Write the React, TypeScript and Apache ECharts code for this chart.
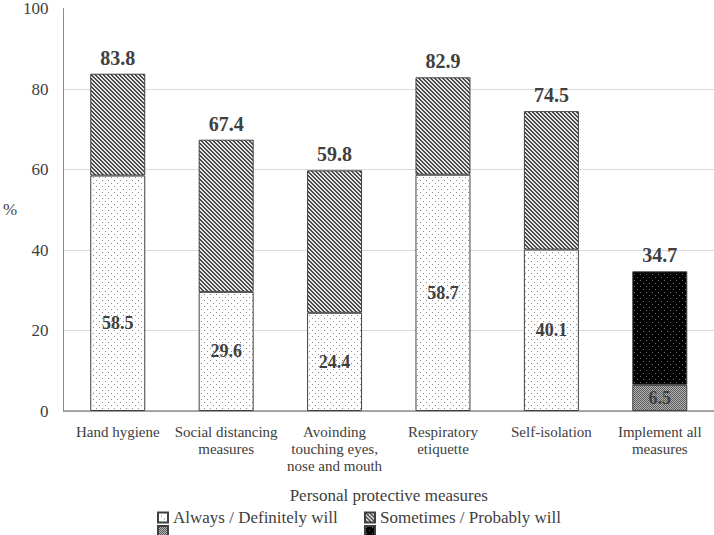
import React, { useEffect, useRef } from "react";
import * as echarts from "echarts";

const categories = [
  "Hand hygiene",
  "Social distancing\nmeasures",
  "Avoinding\ntouching eyes,\nnose and mouth",
  "Respiratory\netiquette",
  "Self-isolation",
  "Implement all\nmeasures",
];
const seriesNames = ["Always / Definitely will", "Sometimes / Probably will", " ", "  "];
// Always / Definitely will (first five measures)
const alwaysVals: (number | string)[] = [58.5, 29.6, 24.4, 58.7, 40.1, "-"];
// Top totals shown above each bar
const totals = [83.8, 67.4, 59.8, 82.9, 74.5, 34.7];
// Implement all measures: lower (grey) part
const implementLower: (number | string)[] = ["-", "-", "-", "-", "-", 6.5];
const yTicks = [0, 20, 40, 60, 80, 100];

const FONT = "Times New Roman, Liberation Serif, serif";
const TXT = "#404040";

function makePattern(size: number, bg: string, fg: string, test: (x: number, y: number) => boolean) {
  const c = document.createElement("canvas");
  c.width = size;
  c.height = size;
  const ctx = c.getContext("2d")!;
  ctx.fillStyle = bg;
  ctx.fillRect(0, 0, size, size);
  ctx.fillStyle = fg;
  for (let x = 0; x < size; x++) for (let y = 0; y < size; y++) if (test(x, y)) ctx.fillRect(x, y, 1, 1);
  return { image: c, repeat: "repeat" } as any;
}

export default function App() {
  const ref = useRef<HTMLDivElement>(null);
  useEffect(() => {
    if (!ref.current) return;
    const chart = echarts.init(ref.current, undefined, { renderer: "svg" });

    const dots = makePattern(6, "#ffffff", "#8a8a8a", (x, y) => (x === 0 && y === 0) || (x === 3 && y === 3));
    const stripes = makePattern(4, "#e6e6e6", "#4a4a4a", (x, y) => ((x - y + 8) % 4 === 0) || ((x - y + 8) % 4 === 1));
    const greyFine = makePattern(2, "#b4b4b4", "#5a5a5a", (x, y) => x === y);
    const blackDots = makePattern(6, "#000000", "#6e6e6e", (x, y) => (x === 1 && y === 1) || (x === 4 && y === 4));

    const sometimesVals = totals.map((t, i) =>
      typeof alwaysVals[i] === "number" ? Math.round((t - (alwaysVals[i] as number)) * 10) / 10 : "-"
    );
    const implementUpper = totals.map((t, i) =>
      typeof implementLower[i] === "number" ? Math.round((t - (implementLower[i] as number)) * 10) / 10 : "-"
    );

    const innerLabel = {
      show: true,
      position: "inside",
      fontFamily: FONT,
      fontSize: 18,
      fontWeight: "bold",
      color: TXT,
    };
    const topLabel = {
      show: true,
      position: "top",
      distance: 6,
      fontFamily: FONT,
      fontSize: 20,
      fontWeight: "bold",
      color: TXT,
      formatter: (p: any) => totals[p.dataIndex].toFixed(1),
    };
    const border = { borderColor: "#404040", borderWidth: 1 };

    const legendBase = {
      orient: "horizontal",
      padding: 0,
      itemWidth: 10,
      itemHeight: 10,
      itemGap: 4,
      icon: "rect",
      textStyle: { fontFamily: FONT, fontSize: 17, color: TXT, fontWeight: "normal" },
    };

    chart.setOption({
      animation: false,
      backgroundColor: "#ffffff",
      textStyle: { fontFamily: FONT },
      grid: { left: 60, right: 0, top: 7, bottom: 124, containLabel: false },
      legend: [
        { ...legendBase, data: [seriesNames[0]], left: 157, top: 509 },
        { ...legendBase, data: [seriesNames[1]], left: 364, top: 509 },
        { ...legendBase, data: [seriesNames[2]], left: 157, top: 525, textStyle: { fontFamily: FONT, fontSize: 10 } },
        { ...legendBase, data: [seriesNames[3]], left: 364, top: 525, textStyle: { fontFamily: FONT, fontSize: 10 } },
      ],
      xAxis: {
        type: "category",
        data: categories,
        name: "Personal protective measures",
        nameLocation: "middle",
        nameGap: 76,
        nameTextStyle: { fontFamily: FONT, fontSize: 17, color: TXT, fontWeight: "normal" },
        axisLine: { show: true, lineStyle: { color: "#8c8c8c", width: 1.5 } },
        axisTick: { show: false },
        axisLabel: {
          fontFamily: FONT,
          fontSize: 15,
          fontWeight: "normal",
          lineHeight: 17,
          color: TXT,
          margin: 12,
          interval: 0,
        },
      },
      yAxis: {
        type: "value",
        min: yTicks[0],
        max: yTicks[yTicks.length - 1],
        interval: 20,
        name: "%",
        nameLocation: "middle",
        nameRotate: 0,
        nameGap: 45,
        nameTextStyle: { fontFamily: FONT, fontSize: 17, color: TXT, fontWeight: "normal" },
        axisLine: { show: true, lineStyle: { color: "#8c8c8c", width: 1 } },
        axisTick: { show: false },
        axisLabel: { fontFamily: FONT, fontSize: 17, color: TXT, margin: 15, fontWeight: "normal" },
        splitLine: {
          show: true,
          lineStyle: {
            color: ["#d9d9d9", "#d9d9d9", "#d9d9d9", "#d9d9d9", "#d9d9d9", "rgba(0,0,0,0)"],
            width: 1,
          },
        },
      },
      series: [
        {
          name: seriesNames[0],
          type: "bar",
          stack: "a",
          barWidth: 55,
          data: alwaysVals.map((v, i) =>
            i === 0 ? { value: v, label: { offset: [0, 30] } } : v
          ),
          itemStyle: { color: dots, ...border },
          label: innerLabel,
        },
        {
          name: seriesNames[1],
          type: "bar",
          stack: "a",
          barWidth: 55,
          data: sometimesVals,
          itemStyle: { color: stripes, ...border },
          label: topLabel,
        },
        {
          name: seriesNames[2],
          type: "bar",
          stack: "a",
          barWidth: 55,
          data: implementLower,
          itemStyle: { color: greyFine, ...border },
          label: innerLabel,
        },
        {
          name: seriesNames[3],
          type: "bar",
          stack: "a",
          barWidth: 55,
          data: implementUpper,
          itemStyle: { color: blackDots, ...border },
          label: topLabel,
        },
      ],
    });
    return () => chart.dispose();
  }, []);
  return <div ref={ref} style={{ width: 714, height: 535, position: "absolute", left: 0, top: 0 }} />;
}
